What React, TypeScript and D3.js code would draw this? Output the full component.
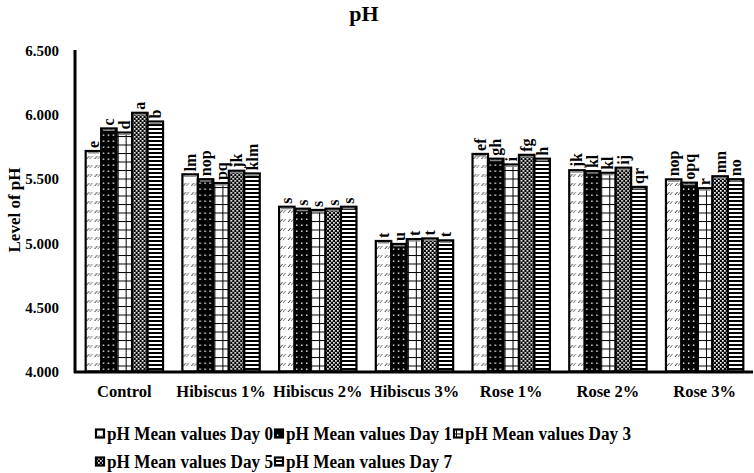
import React from "react";
import * as d3 from "d3";

const categories = ["Control", "Hibiscus 1%", "Hibiscus 2%", "Hibiscus 3%", "Rose 1%", "Rose 2%", "Rose 3%"];
const seriesNames = [
  "pH Mean values Day 0",
  "pH Mean values Day 1",
  "pH Mean values Day 3",
  "pH Mean values Day 5",
  "pH Mean values Day 7",
];
const day0 = [5.72, 5.538, 5.285, 5.018, 5.697, 5.57, 5.499];
const day1 = [5.896, 5.5, 5.27, 4.995, 5.66, 5.563, 5.473];
const day3 = [5.864, 5.47, 5.26, 5.033, 5.615, 5.55, 5.43];
const day5 = [6.018, 5.566, 5.27, 5.038, 5.69, 5.59, 5.523];
const day7 = [5.95, 5.545, 5.285, 5.023, 5.66, 5.44, 5.5];
const letters0 = ["e", "lm", "s", "t", "ef", "jk", "nop"];
const letters1 = ["c", "nop", "s", "u", "gh", "kl", "opq"];
const letters3 = ["d", "pq", "s", "t", "i", "kl", "r"];
const letters5 = ["a", "jk", "s", "t", "fg", "ij", "mn"];
const letters7 = ["b", "klm", "s", "t", "h", "qr", "no"];
const yTicks = [4.0, 4.5, 5.0, 5.5, 6.0, 6.5];

const series = [day0, day1, day3, day5, day7];
const letterSets = [letters0, letters1, letters3, letters5, letters7];
const patternIds = ["pDiag", "pDots", "pGrid", "pCheck", "pHoriz"];

const W = 754;
const H = 473;
const FONT = "'Liberation Serif', 'Times New Roman', serif";

export default function App() {
  const x0 = d3.scaleBand<string>().domain(categories).range([76, 753]).paddingInner(0.2).paddingOuter(0.1);
  const x1 = d3.scaleBand<number>().domain(d3.range(series.length)).range([0, x0.bandwidth()]);
  const y = d3.scaleLinear().domain([4.0, 6.5]).range([371.5, 51]);
  const fmt = d3.format(".3f");

  const legendRows = [
    [0, 1, 2],
    [3, 4],
  ];

  return (
    <svg width={W} height={H} style={{ position: "absolute", left: 0, top: 0, background: "#fff" }} fontFamily={FONT}>
      <defs>
        <pattern id="pDiag" patternUnits="userSpaceOnUse" width="8" height="9">
          <rect width="8" height="9" fill="#fff" />
          <line x1="1" y1="6" x2="3.5" y2="3" stroke="#333" strokeWidth="1" />
          <line x1="4" y1="6" x2="6.5" y2="3" stroke="#555" strokeWidth="0.9" />
        </pattern>
        <pattern id="pDots" patternUnits="userSpaceOnUse" width="5" height="6">
          <rect width="5" height="6" fill="#000" />
          <rect x="2" y="2.5" width="1.4" height="1.4" fill="#fff" />
        </pattern>
        <pattern id="pGrid" patternUnits="userSpaceOnUse" width="8" height="8.5">
          <rect width="8" height="8.5" fill="#fff" />
          <line x1="0" y1="0" x2="8" y2="0" stroke="#000" strokeWidth="2" />
          <line x1="0" y1="0" x2="0" y2="8.5" stroke="#000" strokeWidth="2" />
        </pattern>
        <pattern id="pCheck" patternUnits="userSpaceOnUse" width="4" height="4">
          <rect width="4" height="4" fill="#000" />
          <rect x="0" y="0" width="1.7" height="1.7" fill="#fff" />
          <rect x="2" y="2" width="1.7" height="1.7" fill="#fff" />
        </pattern>
        <pattern id="pHoriz" patternUnits="userSpaceOnUse" width="4" height="4">
          <rect width="4" height="4" fill="#fff" />
          <rect x="0" y="0" width="4" height="2" fill="#000" />
        </pattern>
      </defs>

      <text x={364} y={21} textAnchor="middle" fontSize={22} fontWeight="bold">
        pH
      </text>

      <text transform={`translate(20,210) rotate(-90)`} textAnchor="middle" fontSize={17} fontWeight="bold">
        Level of pH
      </text>

      {yTicks.map((t) => (
        <text key={t} x={59} y={y(t)} dy="0.35em" textAnchor="end" fontSize={15} fontWeight="bold">
          {fmt(t)}
        </text>
      ))}

      {categories.map((c, ci) => (
        <g key={c} transform={`translate(${x0(c)},0)`}>
          {series.map((s, si) => {
            const bx = x1(si)!;
            const bw = x1.bandwidth();
            const top = y(s[ci]);
            return (
              <g key={si}>
                <rect
                  x={bx}
                  y={top}
                  width={bw}
                  height={y(4) - top}
                  fill={`url(#${patternIds[si]})`}
                  stroke="#000"
                  strokeWidth={2.2}
                />
                <line x1={bx + 2} x2={bx + bw - 2} y1={top + 1.8} y2={top + 1.8} stroke="#888" strokeWidth={1.5} />
                <text
                  transform={`translate(${bx + bw / 2 + 5.5},${top - 3}) rotate(-90)`}
                  textAnchor="start"
                  fontSize={16}
                  fontWeight="bold"
                >
                  {letterSets[si][ci]}
                </text>
              </g>
            );
          })}
          <text x={x0.bandwidth() / 2} y={397} textAnchor="middle" fontSize={16.5} fontWeight="bold">
            {c}
          </text>
        </g>
      ))}

      <line x1={75} x2={75} y1={50} y2={373} stroke="#000" strokeWidth={3} />
      <line x1={74} x2={753} y1={372} y2={372} stroke="#000" strokeWidth={3} />

      {legendRows.map((row, ri) =>
        row.map((si, k) => {
          const lx = 100 + k * 179;
          const ly = ri === 0 ? 434 : 462;
          return (
            <g key={si}>
              <rect x={lx - 4} y={ly - 4.5} width={8} height={8} fill={`url(#${patternIds[si]})`} stroke="#000" strokeWidth={2.2} />
              <text
                x={lx + 7}
                y={ly}
                dy="0.35em"
                fontSize={18}
                fontWeight="bold"
                textLength={166}
                lengthAdjust="spacingAndGlyphs"
              >
                {seriesNames[si]}
              </text>
            </g>
          );
        })
      )}
    </svg>
  );
}
